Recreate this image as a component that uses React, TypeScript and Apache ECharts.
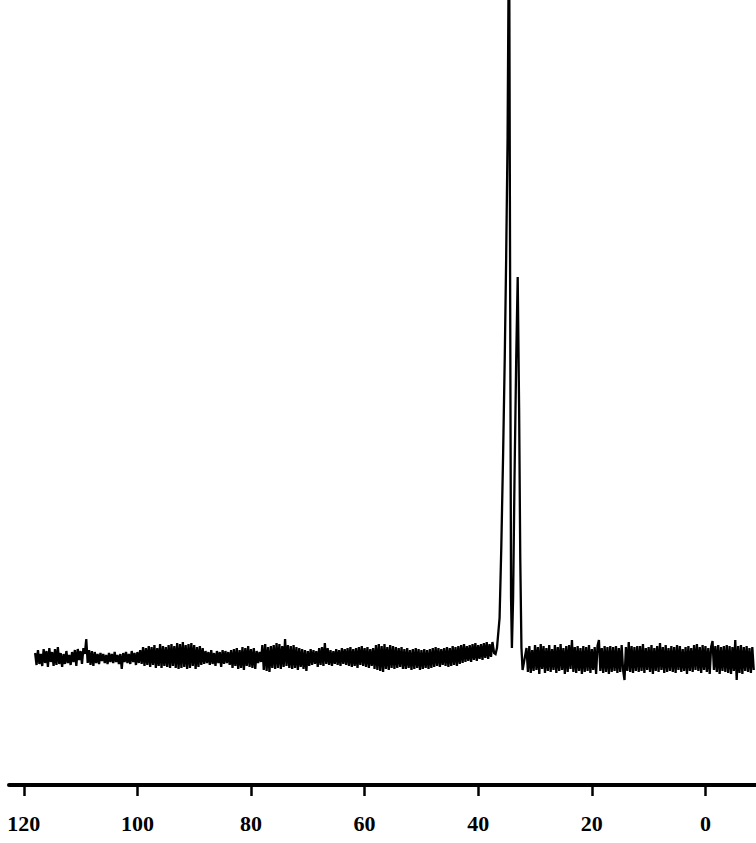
import React, { useEffect, useRef } from "react";
import * as echarts from "echarts";

// chemical shift tick labels (ppm)
const tickValues: number[] = [120, 100, 80, 60, 40, 20, 0];

// baseline noise, downfield part: ppm 118.0 -> 37.5, step 0.25
const noiseLeftStart = 118.0;
const noiseLeft: number[] = [
  5, -7, 8, -6, 4, -8, 9, -5, 7, -9, 10, -4, 6, -8, 9, -7, 11, -6, 5, -9,
  4, -6, 7, -5, 3, -7, 6, -4, 8, -8, 9, -2, 7, -6, 10, 4, 19, -5, 8, -7,
  7, -8, 6, -5, 4, -6, 5, -3, 4, -5, 3, -6, 5, -4, 4, -5, 6, -4, 3, -6,
  4, -11, 5, -4, 6, -5, 4, -6, 7, -4, 5, -7, 6, -5, 8, -6, 11, -8, 10, -7,
  12, -9, 11, -7, 13, -10, 10, -8, 14, -10, 12, -8, 11, -9, 13, -10, 14, -8, 12, -10,
  15, -11, 14, -10, 16, -9, 13, -11, 14, -10, 15, -8, 13, -11, 11, -9, 12, -7, 10, -6,
  7, -5, 6, -7, 8, -6, 5, -8, 7, -5, 6, -9, 8, -6, 7, -5, 6, -7, 8, -10,
  9, -8, 10, -11, 8, -10, 11, -12, 10, -8, 12, -9, 9, -10, 10, -11, 7, -5, 6, -4,
  13, -12, 14, -13, 11, -14, 12, -10, 13, -11, 15, -10, 14, -11, 12, -9, 19, -8, 13, -10,
  12, -11, 13, -10, 11, -12, 10, -9, 9, -11, 8, -13, 7, -8, 9, -7, 8, -6, 7, -9,
  10, -7, 11, -8, 15, -6, 10, -7, 8, -8, 7, -6, 9, -7, 8, -8, 10, -6, 9, -7,
  10, -8, 11, -9, 9, -8, 10, -10, 11, -7, 12, -8, 10, -9, 11, -10, 9, -8, 10, -11,
  13, -12, 14, -13, 12, -14, 14, -11, 11, -12, 13, -10, 12, -11, 11, -10, 10, -9, 11, -11,
  9, -11, 10, -10, 8, -12, 9, -11, 10, -10, 9, -12, 8, -11, 9, -10, 8, -11, 9, -10,
  10, -9, 11, -8, 10, -9, 9, -7, 10, -8, 11, -9, 10, -8, 12, -7, 11, -8, 12, -6,
  13, -5, 14, -4, 12, -3, 13, -4, 14, -2, 15, -3, 13, -1, 14, -2, 15, 0, 16, -1,
  14, 1, 16,
];

// the two resonances near 34 ppm: [ppm, intensity]
const peakPpm: number[] = [37.2, 36.95, 36.7, 36.24, 35.94, 35.63, 35.33, 35.08, 34.83, 34.57, 34.37, 34.22, 34.07, 33.86, 33.61, 33.31, 33.05, 32.8, 32.6, 32.39, 32.19];
const peakVal: number[] = [5, 4, 10, 40, 110, 200, 300, 400, 520, 760, 350, 60, 10, 60, 180, 300, 381, 250, 100, 10, -12];

// baseline noise, upfield part: ppm 31.5 -> -8.5, step 0.25
const noiseRightStart = 31.5;
const noiseRight: number[] = [
  10, -14, 12, -15, 8, -13, 13, -12, 11, -16, 14, -11, 12, -15, 10, -13, 13, -14, 9, -12,
  13, -15, 11, -13, 14, -12, 10, -16, 12, -14, 13, -11, 18, -14, 11, -15, 12, -13, 10, -16,
  12, -14, 11, -13, 13, -15, 9, -12, 11, -16, 12, 18, -13, 10, -15, 12, -14, 11, -16, 12,
  -14, 11, -13, 12, -15, 10, -14, 13, -12, -22, 11, -13, 16, -14, 12, -15, 11, -13, 12, -14,
  12, -13, 14, -15, 10, -12, 11, -14, 13, -16, 10, -13, 12, -14, 15, -12, 11, -15, 13, -14,
  10, -13, 12, -14, 11, -15, 13, -12, 12, -14, 9, -13, 11, -16, 12, -13, 10, -14, 13, -12,
  14, -13, 11, -15, 13, -12, 12, -14, 10, -16, 11, 17, -12, 12, -14, 13, -16, 11, -13, 12,
  -14, 13, -15, 12, -16, 11, -13, 18, -22, 12, -15, 13, -16, 11, -13, 12, -14, 10, -15, 11,
  -12,
];

export default function App() {
  const ref = useRef<HTMLDivElement>(null);
  useEffect(() => {
    if (!ref.current) return;
    const chart = echarts.init(ref.current, undefined, { renderer: "svg" });
    const data: number[][] = [];
    noiseLeft.forEach((v, i) => data.push([noiseLeftStart - i * 0.25, v]));
    peakPpm.forEach((p, i) => data.push([p, peakVal[i]]));
    noiseRight.forEach((v, i) => data.push([noiseRightStart - i * 0.25, v]));

    chart.setOption({
      animation: false,
      backgroundColor: "#ffffff",
      grid: {
        left: 9,
        right: 0,
        top: 0,
        bottom: 58,
        containLabel: false,
        outerBoundsMode: "none",
      },
      xAxis: {
        type: "value",
        inverse: true,
        min: -8.9,
        max: 122.6,
        splitLine: { show: false },
        axisLine: { show: true, onZero: false, lineStyle: { color: "#000", width: 4 } },
        axisTick: {
          show: true,
          inside: false,
          length: 11,
          customValues: tickValues,
          lineStyle: { color: "#000", width: 2.5 },
        },
        axisLabel: {
          show: true,
          customValues: tickValues,
          margin: 27,
          color: "#000",
          fontFamily: "'Liberation Serif', 'Times New Roman', serif",
          fontWeight: "bold",
          fontSize: 22,
        },
      },
      yAxis: {
        type: "value",
        show: false,
        min: -127,
        max: 658,
        splitLine: { show: false },
      },
      series: [
        {
          type: "line",
          data,
          showSymbol: false,
          clip: true,
          lineStyle: { color: "#000", width: 2.3, join: "miter", miterLimit: 2 },
        },
      ],
    });
    return () => chart.dispose();
  }, []);
  return (
    <div
      ref={ref}
      style={{ position: "absolute", left: 0, top: 0, width: 756, height: 843, background: "#fff" }}
    />
  );
}
